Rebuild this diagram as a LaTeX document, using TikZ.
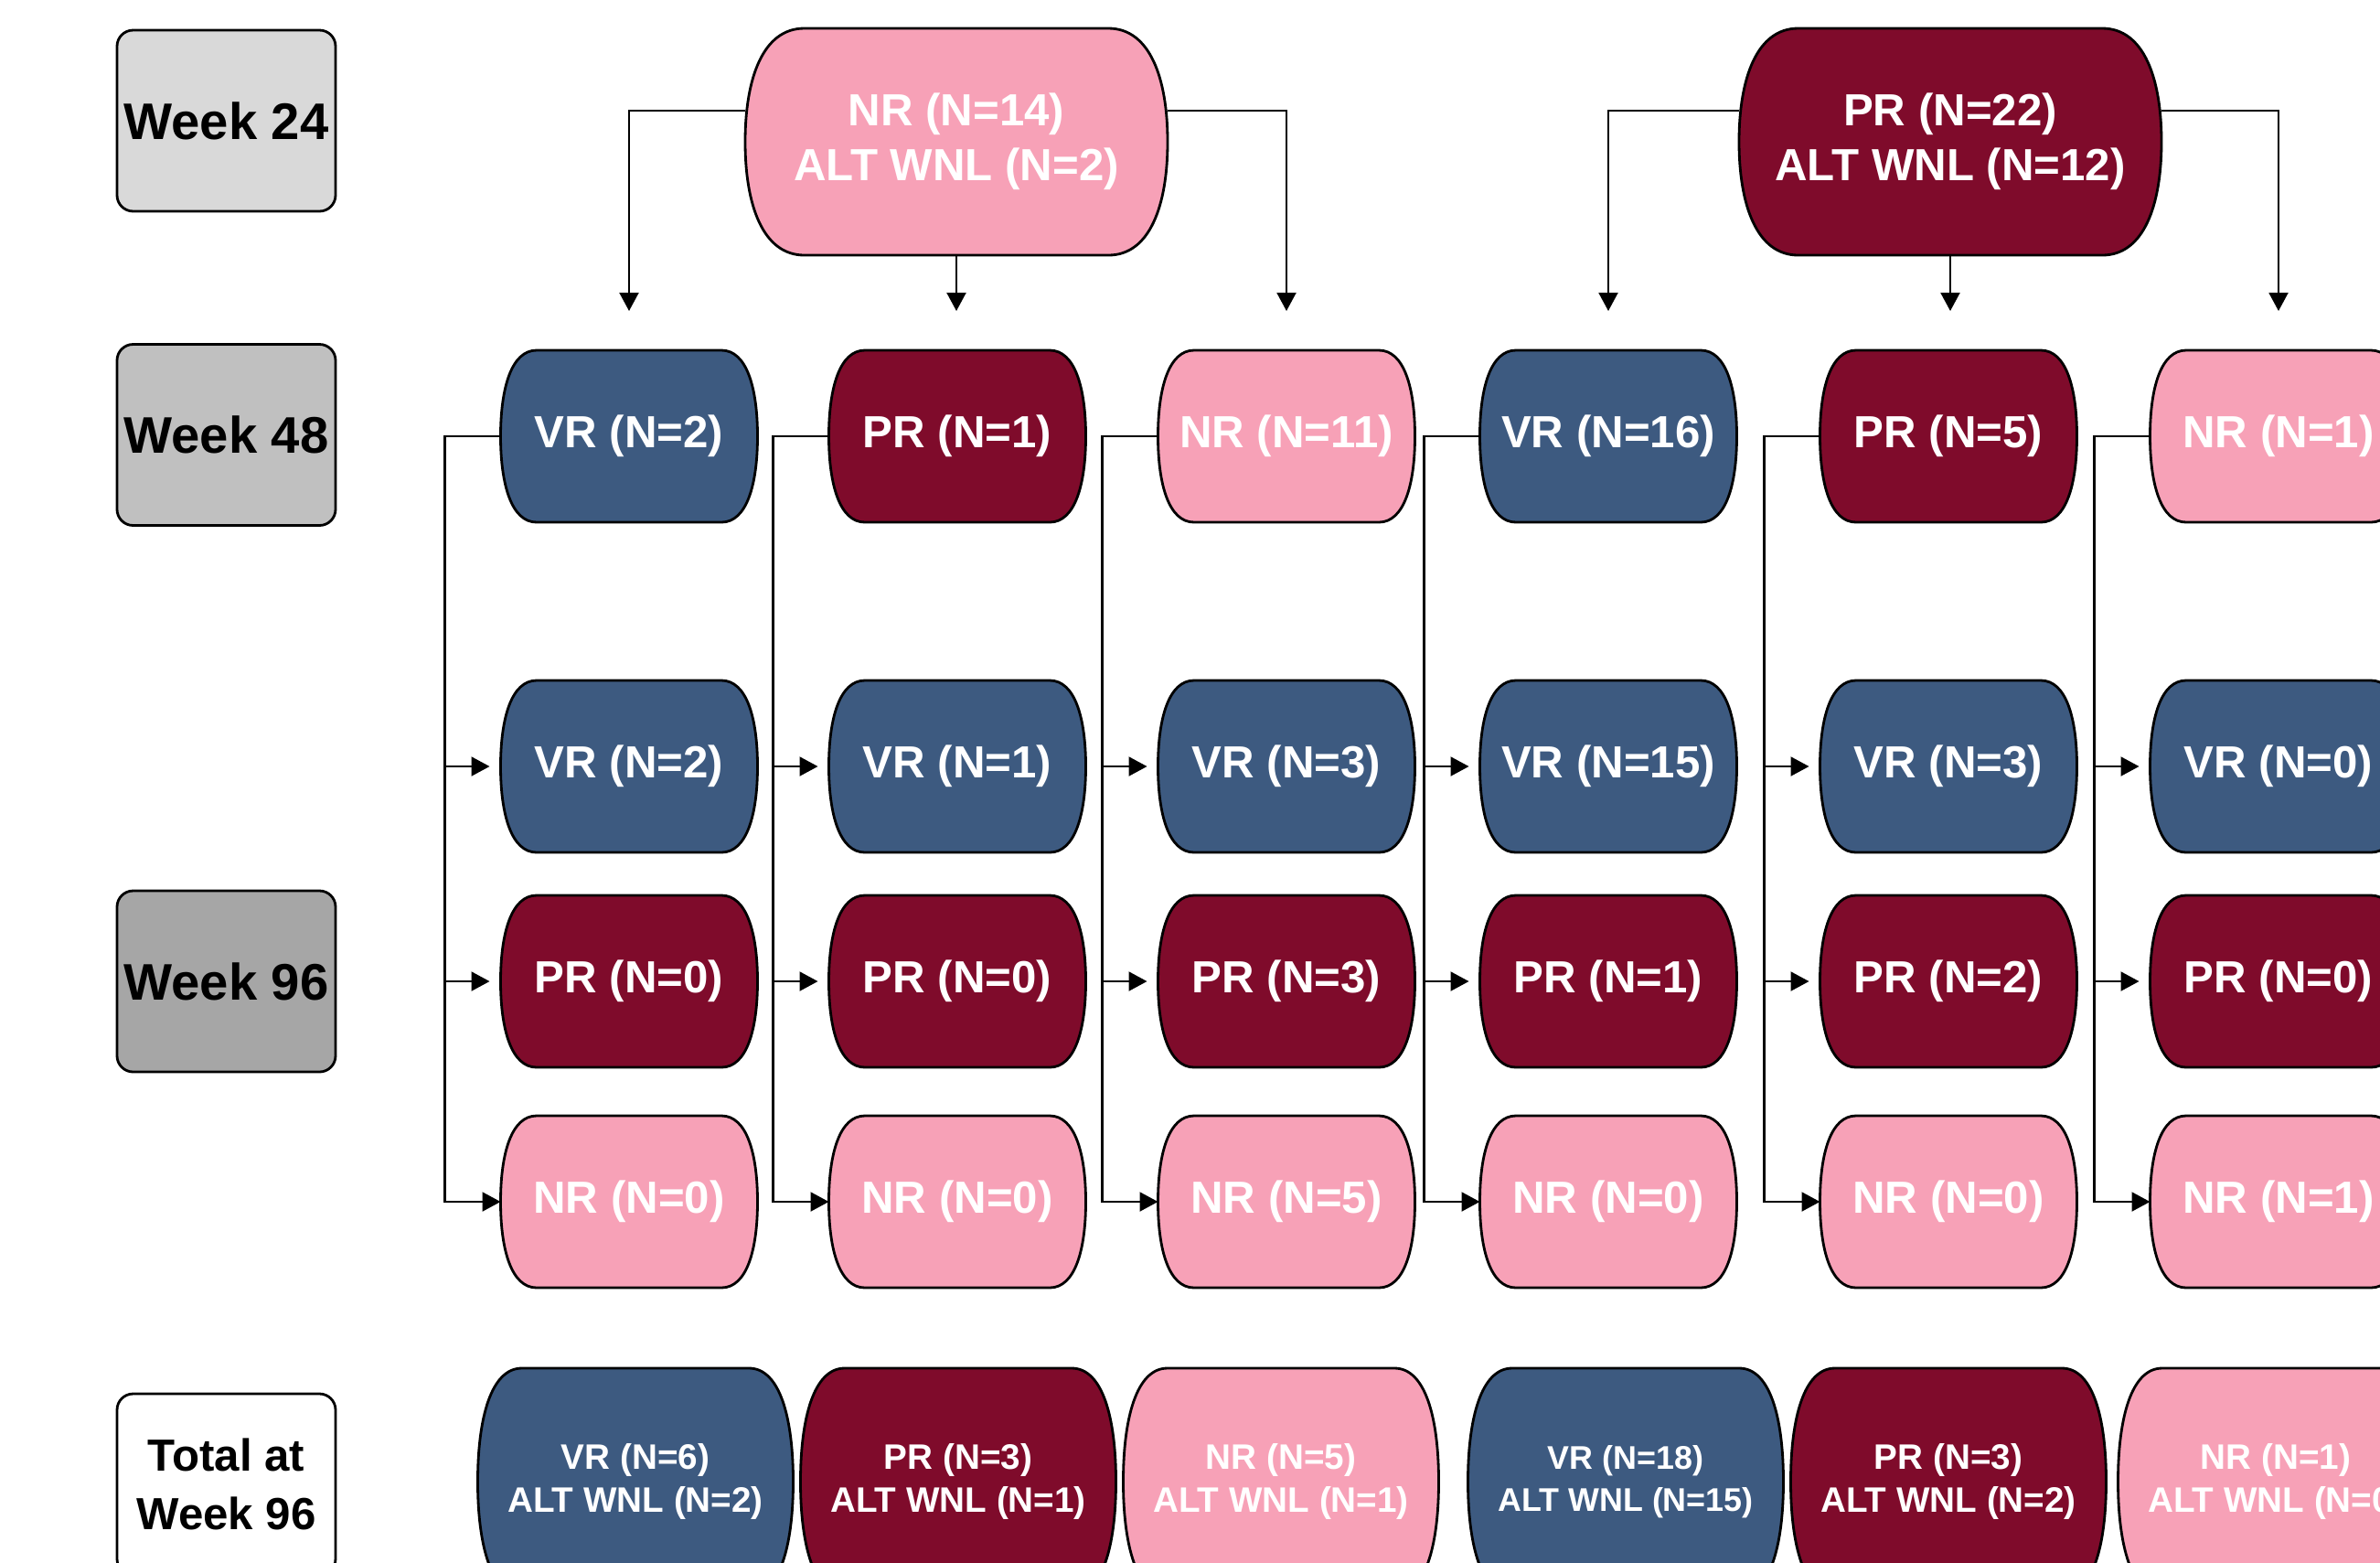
\documentclass[tikz,border=0pt]{standalone}
\usepackage{fontspec}
\setmainfont{Liberation Sans}
\usetikzlibrary{positioning,arrows.meta,calc}
\pgfdeclarelayer{wires}
\pgfdeclarelayer{shapes}
\pgfsetlayers{wires,shapes,main}

\definecolor{cvr}{HTML}{3D5A80}
\definecolor{cpr}{HTML}{7F0B2B}
\definecolor{cnr}{HTML}{F7A1B7}
\definecolor{cwkA}{HTML}{D9D9D9}
\definecolor{cwkB}{HTML}{C0C0C0}
\definecolor{cwkC}{HTML}{A6A6A6}

% barrel outline round an (invisible) node
\newcommand{\barrel}[2]{%
  \draw[line width=0.8pt,fill=#2] let \p1=(#1.north west), \p2=(#1.south east),
    \n1={0.14*(\x2-\x1)}, \n2={\y1-\y2} in
    (\x1+\n1,\y1) -- (\x2-\n1,\y1)
    .. controls (\x2-0.3*\n1,\y1) and (\x2,\y1-0.22*\n2) .. (\x2,\y1-0.5*\n2)
    .. controls (\x2,\y2+0.22*\n2) and (\x2-0.3*\n1,\y2) .. (\x2-\n1,\y2)
    -- (\x1+\n1,\y2)
    .. controls (\x1+0.3*\n1,\y2) and (\x1,\y2+0.22*\n2) .. (\x1,\y2+0.5*\n2)
    .. controls (\x1,\y1-0.22*\n2) and (\x1+0.3*\n1,\y1) .. cycle;}

\tikzset{
  resp/.style={draw=none,outer sep=0pt,inner sep=0pt,text=white,align=center,
    font=\bfseries\fontsize{14}{17}\selectfont,minimum width=2.81cm,minimum height=1.88cm},
  topresp/.style={resp,minimum width=4.62cm,minimum height=2.48cm},
  totresp/.style={resp,minimum width=3.45cm,minimum height=2.48cm},
  weekbox/.style={draw,line width=0.8pt,rounded corners=5pt,inner sep=0pt,align=center,
    minimum width=2.39cm,minimum height=1.98cm,font=\bfseries\fontsize{16}{19}\selectfont},
  wire/.style={line width=0.6pt},
  arr/.style={wire,-{Triangle[length=2mm,width=2.1mm]}}
}

\begin{document}
\begin{tikzpicture}
\useasboundingbox (0,0) rectangle (26.03,-17.08);
% ===== time point labels =====
\node[weekbox,fill=cwkA] (wk24) at (2.475,-1.32) {Week 24};
\node[weekbox,fill=cwkB] (wk48) at (2.475,-4.755) {Week 48};
\node[weekbox,fill=cwkC] (wk96) at (2.475,-10.73) {Week 96};
\node[weekbox,fill=white,font=\bfseries\fontsize{14}{18}\selectfont] (tot96) at (2.475,-16.23) {Total at\\Week 96};
% ===== week 24 =====
\node[topresp] (nr24) at (10.46,-1.55) {NR (N=14)\\ALT WNL (N=2)};
\node[topresp] (pr24) at (21.33,-1.55) {PR (N=22)\\ALT WNL (N=12)};
\begin{pgfonlayer}{shapes}
  \barrel{nr24}{cnr}
  \barrel{pr24}{cpr}
\end{pgfonlayer}
% ===== week 48 / week 96 / totals, one column each =====
\foreach \i/\xc/\xt/\lab/\col/\cv/\cp/\cn/\fs/\tot in {
  1/6.88/6.95/VR (N=2)/cvr/2/0/0/11/{VR (N=6)\\ALT WNL (N=2)},
  2/10.47/10.48/PR (N=1)/cpr/1/0/0/11/{PR (N=3)\\ALT WNL (N=1)},
  3/14.07/14.01/NR (N=11)/cnr/3/3/5/11/{NR (N=5)\\ALT WNL (N=1)},
  4/17.59/17.78/VR (N=16)/cvr/15/1/0/10.2/{VR (N=18)\\ALT WNL (N=15)},
  5/21.31/21.31/PR (N=5)/cpr/3/2/0/11/{PR (N=3)\\ALT WNL (N=2)},
  6/24.92/24.89/NR (N=1)/cnr/0/0/1/11/{NR (N=1)\\ALT WNL (N=0)}}{
  \node[resp] (n48c\i) at (\xc,-4.77) {\lab};
  \node[resp] (vr96c\i) at (\xc,-8.38) {VR (N=\cv)};
  \node[resp] (pr96c\i) at (\xc,-10.73) {PR (N=\cp)};
  \node[resp] (nr96c\i) at (\xc,-13.14) {NR (N=\cn)};
  \node[totresp,font=\bfseries\fontsize{\fs}{13.2}\selectfont] (tot\i) at (\xt,-16.20) {\tot};
  \begin{pgfonlayer}{shapes}
    \barrel{n48c\i}{\col}
    \barrel{vr96c\i}{cvr}
    \barrel{pr96c\i}{cpr}
    \barrel{nr96c\i}{cnr}
    \barrel{tot\i}{\col}
  \end{pgfonlayer}
  \begin{pgfonlayer}{wires}
    \coordinate (t\i) at ($(n48c\i.west)+(-0.61,0)$);
    \draw[arr] (n48c\i.west) -- (t\i) |- (nr96c\i.west);
    \draw[arr,shorten >=0.12cm] (t\i |- vr96c\i) -- (vr96c\i.west);
    \draw[arr,shorten >=0.12cm] (t\i |- pr96c\i) -- (pr96c\i.west);
  \end{pgfonlayer}
}
% ===== week 24 -> week 48 =====
\begin{pgfonlayer}{wires}
  \draw[arr,shorten >=0.43cm] ([yshift=0.34cm]nr24.west) -| (n48c1.north);
  \draw[arr,shorten >=0.43cm] (nr24.south) -- (nr24.south |- n48c2.north);
  \draw[arr,shorten >=0.43cm] ([yshift=0.34cm]nr24.east) -| (n48c3.north);
  \draw[arr,shorten >=0.43cm] ([yshift=0.34cm]pr24.west) -| (n48c4.north);
  \draw[arr,shorten >=0.43cm] (pr24.south) -- (pr24.south |- n48c5.north);
  \draw[arr,shorten >=0.43cm] ([yshift=0.34cm]pr24.east) -| (n48c6.north);
\end{pgfonlayer}
\end{tikzpicture}
\end{document}
